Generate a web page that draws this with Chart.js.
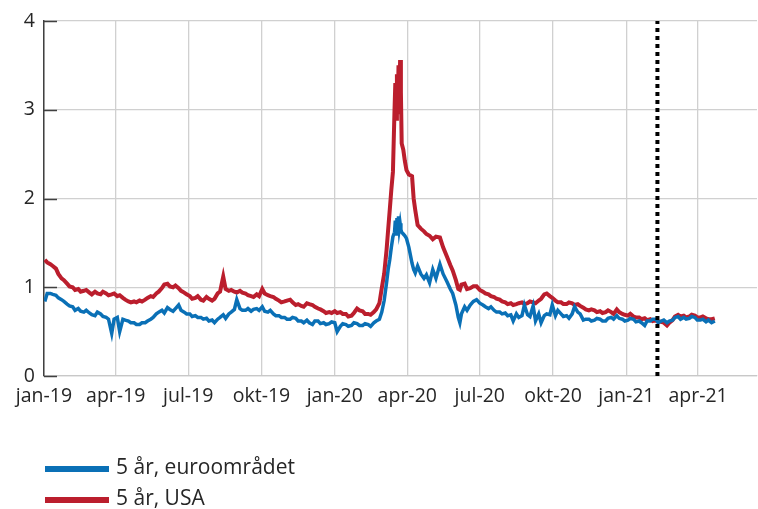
<!DOCTYPE html>
<html>
<head>
<meta charset="utf-8">
<script src="https://cdn.jsdelivr.net/npm/chart.js@4"></script>
<style>
  html, body { margin: 0; padding: 0; background: #ffffff; }
  #wrap { position: relative; width: 758px; height: 509px; }
</style>
</head>
<body>
<div id="wrap"><canvas id="c" width="758" height="509"></canvas></div>
<script>
// Days since 1 Jan 2019
const days = [
  1,4,8,11,15,18,22,25,29,32, 36,39,43,46,50,53,57,60,64,67, 71,74,78,81,85,88,92,95,99,102,
  106,109,113,116,120,123,127,130,134,137, 141,144,148,151,155,158,162,165,169,172, 176,179,183,186,190,193,197,200,204,207,
  211,214,218,221,225,228,232,235,239,242, 246,249,253,256,260,263,267,270,274,277, 281,284,288,291,295,298,302,305,309,312,
  316,319,323,326,330,333,337,340,344,347, 351,354,358,361,365,368,372,375,379,382, 386,389,393,396,400,403,407,410,414,417,
  421,
  424,427,430,432,434,436,438, 440,441,442,443,444,445,446,447,448,449, 451,453,455,458,462,464,466,469,
  473,477,480,484,488,492,497, 501,506,510,513,517,520,522,524,528,531, 535,539,543,547,551,554,
  558,561,565,568,572,575,579,582,586,589, 593,596,600,603,607,610,614,617,621,624, 628,631,635,638,642,645,649,652,656,659,
  663,666,670,673,677,680,684,687,691,694, 698,701,705,708,712,715,719,722,726,729, 733,736,740,743,747,750,754,757,761,764,
  768,771,775,778,782,785,789,792,796,799, 803,806,810,813,817,820,824,827,831,834, 838,842
];
const usa = [
  1.31,1.28,1.26,1.24,1.21,1.15,1.10,1.08,1.04,1.01, 1.00,0.97,0.98,0.95,0.96,0.97,0.94,0.92,0.95,0.93, 0.92,0.95,0.93,0.91,0.92,0.93,0.90,0.91,0.88,0.86,
  0.84,0.83,0.84,0.83,0.85,0.84,0.86,0.88,0.90,0.89, 0.93,0.95,0.99,1.03,1.04,1.01,1.00,1.02,0.99,0.96, 0.94,0.92,0.90,0.87,0.88,0.90,0.86,0.85,0.89,0.87,
  0.85,0.87,0.93,0.95,1.12,0.98,0.96,0.97,0.95,0.94, 0.96,0.94,0.93,0.91,0.90,0.89,0.92,0.90,0.98,0.93, 0.91,0.90,0.89,0.87,0.85,0.83,0.84,0.85,0.86,0.83,
  0.80,0.81,0.79,0.78,0.82,0.81,0.80,0.78,0.76,0.75, 0.73,0.71,0.72,0.71,0.73,0.71,0.72,0.70,0.70,0.67, 0.68,0.71,0.76,0.74,0.73,0.70,0.70,0.69,0.72,0.75,
  0.82,
  0.99,1.15,1.42,1.65,1.87,2.10,2.30, 3.00,3.30,2.90,3.40,2.95,3.50,3.05,3.56,3.20,2.62, 2.55,2.42,2.32,2.27,2.25,2.00,1.87,1.70,
  1.66,1.63,1.60,1.58,1.54,1.57,1.56, 1.45,1.34,1.25,1.19,1.08,0.98,0.97,1.03,1.04,0.98, 0.99,1.01,1.01,0.97,0.95,0.93,
  0.92,0.90,0.89,0.87,0.86,0.84,0.83,0.81,0.82,0.80, 0.81,0.82,0.83,0.81,0.82,0.84,0.83,0.82,0.85,0.87, 0.92,0.93,0.90,0.88,0.85,0.83,0.83,0.81,0.81,0.83,
  0.82,0.80,0.81,0.79,0.77,0.75,0.74,0.75,0.74,0.72, 0.73,0.71,0.72,0.74,0.72,0.70,0.75,0.72,0.70,0.69, 0.68,0.70,0.67,0.66,0.66,0.64,0.65,0.63,0.64,0.62,
  0.63,0.61,0.61,0.60,0.57,0.60,0.63,0.67,0.69,0.67, 0.68,0.66,0.67,0.69,0.68,0.66,0.66,0.67,0.65,0.64, 0.64,0.65
];
const euroArea = [
  0.84,0.93,0.93,0.92,0.91,0.88,0.86,0.84,0.81,0.79, 0.78,0.74,0.76,0.73,0.72,0.74,0.71,0.69,0.68,0.72, 0.70,0.67,0.66,0.64,0.48,0.64,0.66,0.50,0.64,0.63,
  0.62,0.60,0.60,0.58,0.58,0.60,0.60,0.62,0.64,0.66, 0.70,0.72,0.74,0.71,0.77,0.75,0.73,0.76,0.80,0.74, 0.72,0.70,0.70,0.67,0.68,0.66,0.66,0.64,0.65,0.62,
  0.63,0.60,0.64,0.66,0.69,0.65,0.70,0.72,0.75,0.86, 0.76,0.74,0.74,0.76,0.73,0.75,0.76,0.74,0.78,0.73, 0.72,0.74,0.70,0.68,0.68,0.66,0.66,0.64,0.64,0.66,
  0.65,0.62,0.62,0.60,0.63,0.60,0.58,0.62,0.62,0.59, 0.60,0.58,0.59,0.61,0.60,0.50,0.56,0.59,0.58,0.56, 0.57,0.60,0.59,0.57,0.57,0.59,0.58,0.56,0.60,0.62,
  0.64,
  0.72,0.85,1.05,1.20,1.31,1.45,1.57, 1.62,1.75,1.60,1.78,1.65,1.80,1.66,1.72,1.65,1.62, 1.60,1.58,1.55,1.45,1.27,1.20,1.16,1.24,
  1.15,1.10,1.14,1.05,1.20,1.10,1.26, 1.15,1.06,0.98,0.93,0.80,0.66,0.60,0.70,0.78,0.74, 0.80,0.84,0.86,0.82,0.80,0.78,
  0.76,0.78,0.74,0.72,0.72,0.70,0.71,0.68,0.69,0.62, 0.70,0.66,0.68,0.80,0.69,0.67,0.79,0.62,0.70,0.60, 0.68,0.70,0.69,0.80,0.68,0.74,0.70,0.67,0.68,0.65,
  0.70,0.78,0.72,0.70,0.63,0.64,0.64,0.62,0.63,0.65, 0.64,0.62,0.62,0.65,0.66,0.64,0.68,0.65,0.64,0.62, 0.63,0.65,0.64,0.61,0.62,0.60,0.57,0.62,0.62,0.64,
  0.64,0.60,0.62,0.63,0.60,0.62,0.63,0.66,0.67,0.64, 0.66,0.64,0.65,0.67,0.66,0.63,0.63,0.64,0.61,0.63, 0.60,0.62
];
const seriesLabels = ['5 år, euroområdet', '5 år, USA'];
const tickDays = [0, 90, 181, 273, 365, 456, 547, 639, 731, 821];
const tickLabels = ['jan-19','apr-19','jul-19','okt-19','jan-20','apr-20','jul-20','okt-20','jan-21','apr-21'];
const yTicks = [0, 1, 2, 3, 4];
const markerDay = 770;
const xMaxDay = 895;

const BLUE = '#0a70b6';
const RED = '#bb1e2d';
const FONT = '"Open Sans", Lato, sans-serif';
const TEXT = '#262626';

const toPts = (vals) => days.map((d, i) => ({ x: d, y: vals[i] }));

const insideTicks = {
  id: 'insideTicks',
  afterDatasetsDraw(chart) {
    const { ctx, scales: { y }, chartArea } = chart;
    ctx.save();
    ctx.strokeStyle = '#404040';
    ctx.lineWidth = 1.5;
    yTicks.forEach(v => {
      const py = Math.round(y.getPixelForValue(v)) + 0.5;
      ctx.beginPath();
      ctx.moveTo(chartArea.left, py);
      ctx.lineTo(chartArea.left + 13, py);
      ctx.stroke();
    });
    ctx.restore();
  }
};

const customLegend = {
  id: 'customLegend',
  afterDraw(chart) {
    const { ctx } = chart;
    ctx.save();
    ctx.font = '21px ' + FONT;
    ctx.textBaseline = 'middle';
    ctx.fillStyle = TEXT;
    const rows = [469, 500];
    [0, 1].forEach(i => {
      const ds = chart.data.datasets[i];
      ctx.strokeStyle = ds.borderColor;
      ctx.lineWidth = 6;
      ctx.beginPath();
      ctx.moveTo(45, rows[i]);
      ctx.lineTo(109, rows[i]);
      ctx.stroke();
      ctx.fillText(ds.label, 116, rows[i] - 1);
    });
    ctx.restore();
  }
};

new Chart(document.getElementById('c'), {
  type: 'line',
  data: {
    datasets: [
      { label: seriesLabels[0], data: toPts(euroArea), borderColor: BLUE, backgroundColor: BLUE, borderWidth: 3.5, pointRadius: 0, tension: 0, order: 1 },
      { label: seriesLabels[1], data: toPts(usa), borderColor: RED, backgroundColor: RED, borderWidth: 4, pointRadius: 0, tension: 0, order: 2 },
      { label: 'marker', data: [{ x: markerDay, y: 0 }, { x: markerDay, y: 4 }], borderColor: '#000000', borderWidth: 4, borderDash: [4, 4], pointRadius: 0, order: 0 }
    ]
  },
  options: {
    responsive: false,
    animation: false,
    events: [],
    layout: { padding: { top: 21, right: 1, left: 0, bottom: 0 } },
    plugins: { legend: { display: false }, tooltip: { enabled: false } },
    scales: {
      x: {
        type: 'linear',
        min: 0,
        max: xMaxDay,
        afterBuildTicks: (scale) => { scale.ticks = tickDays.map(v => ({ value: v })); },
        afterFit: (scale) => { scale.height = 133; },
        ticks: {
          autoSkip: false,
          maxRotation: 0,
          padding: 9,
          color: TEXT,
          font: { family: FONT, size: 19.5 },
          callback: (v, i) => tickLabels[i]
        },
        grid: { color: '#d0d0d0', lineWidth: 1.3, drawTicks: false },
        border: { color: '#c8c8c8', width: 1.3 }
      },
      y: {
        min: 0,
        max: 4,
        afterBuildTicks: (scale) => { scale.ticks = yTicks.map(v => ({ value: v })); },
        afterFit: (scale) => { scale.width = 44; },
        ticks: {
          padding: 9,
          color: TEXT,
          font: { family: FONT, size: 19.5 }
        },
        grid: { color: '#d0d0d0', lineWidth: 1.3, drawTicks: false },
        border: { color: '#404040', width: 1.5 }
      }
    }
  },
  plugins: [insideTicks, customLegend]
});
</script>
</body>
</html>
